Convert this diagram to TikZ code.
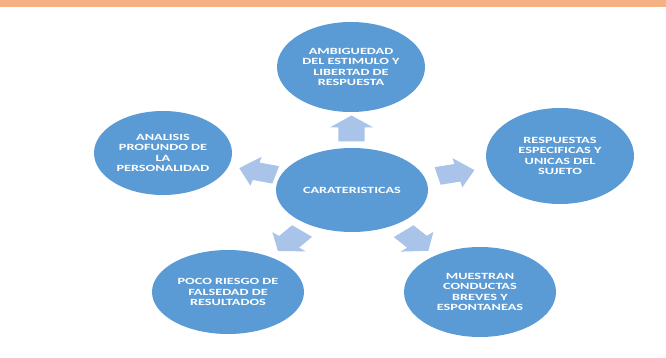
\documentclass[tikz,border=0pt]{standalone}
\usepackage{fontspec}
\setmainfont{Carlito}[FakeStretch=1.5]
\usetikzlibrary{shapes.geometric,calc}
\definecolor{bandorange}{HTML}{F4B183}
\definecolor{ellblue}{HTML}{5B9BD5}
\definecolor{arrblue}{HTML}{A9C4E8}
\tikzset{
  bubble/.style={ellipse, fill=ellblue, draw=none, inner sep=0pt, text=white,
    align=center, font=\fontsize{9.5}{10.5}\selectfont\bfseries},
  blockarrow/.style={fill=arrblue, draw=none}
}
\newcommand{\blockarr}{(-13,-9) -- (1,-9) -- (1,-15) -- (13,0) -- (1,15) -- (1,9) -- (-13,9) -- cycle}
\begin{document}
\begin{tikzpicture}[x=1pt,y=-1pt]
\useasboundingbox (0,0) rectangle (666,358);
\fill[white] (0,0) rectangle (666,358);
\fill[bandorange] (0,0) rectangle (666,7);

\node[bubble, minimum width=152pt, minimum height=84pt] (c) at (352,190) {CARATERISTICAS};
\node[bubble, minimum width=148pt, minimum height=90pt] (t) at (351,67) {AMBIGUEDAD\\DEL ESTIMULO Y\\LIBERTAD DE\\RESPUESTA};
\node[bubble, minimum width=138pt, minimum height=84pt] (l) at (163,153) {ANALISIS\\PROFUNDO DE\\LA\\PERSONALIDAD};
\node[bubble, minimum width=148pt, minimum height=96pt] (r) at (560,156) {RESPUESTAS\\ESPECIFICAS Y\\UNICAS DEL\\SUJETO};
\node[bubble, minimum width=152pt, minimum height=84pt] (bl) at (228,292) {POCO RIESGO DE\\FALSEDAD DE\\RESULTADOS};
\node[bubble, minimum width=152pt, minimum height=90pt] (br) at (480,292) {MUESTRAN\\CONDUCTAS\\BREVES Y\\ESPONTANEAS};

\begin{scope}[shift={($(c.center)!0.5!(t.center)$)}, xscale=1.45, rotate=90]
  \fill[blockarrow] \blockarr;
\end{scope}
\begin{scope}[shift={($(c.center)!0.5!(l.center)$)}, xscale=1.45, rotate=165]
  \fill[blockarrow] \blockarr;
\end{scope}
\begin{scope}[shift={($(c.center)!0.5!(r.center)$)}, xscale=1.45, rotate=13]
  \fill[blockarrow] \blockarr;
\end{scope}
\begin{scope}[shift={($(c.center)!0.5!(bl.center)$)}, xscale=1.45, rotate=230]
  \fill[blockarrow] \blockarr;
\end{scope}
\begin{scope}[shift={($(c.center)!0.5!(br.center)$)}, xscale=1.45, rotate=-49]
  \fill[blockarrow] \blockarr;
\end{scope}
\end{tikzpicture}
\end{document}
